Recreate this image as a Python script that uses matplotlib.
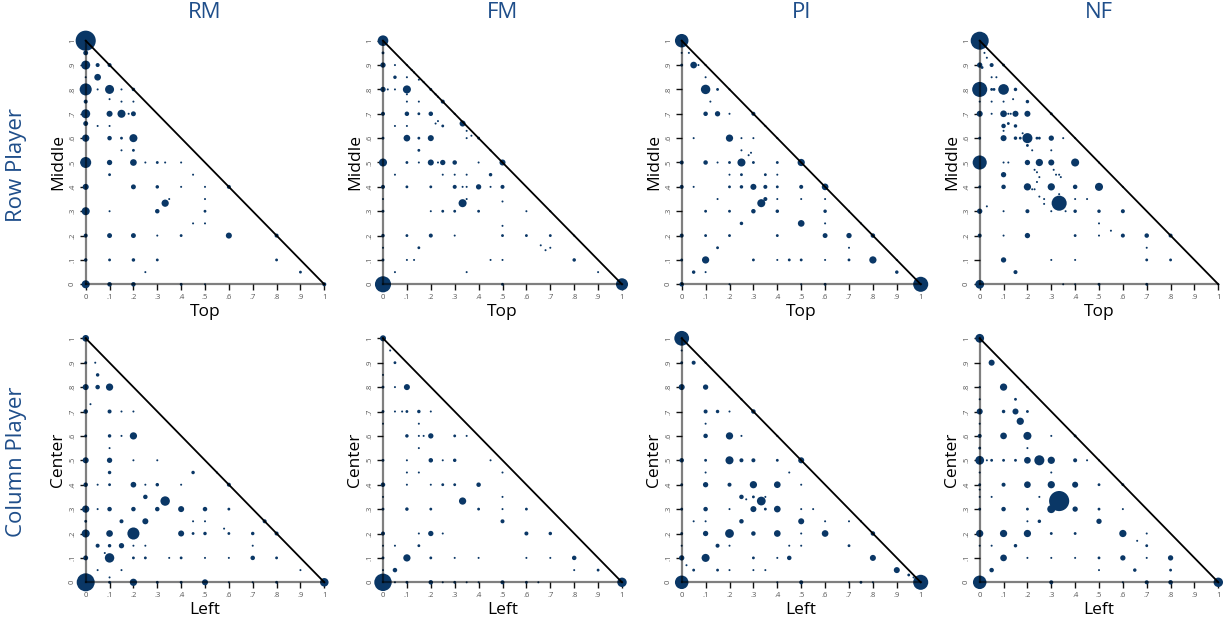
"""Triangle bubble plots of mixed strategies, row and column player, per learning model."""

import matplotlib
matplotlib.use("Agg")
import matplotlib.pyplot as plt

plt.rcParams["font.family"] = ["Open Sans", "DejaVu Sans"]

models = ["RM", "FM", "PI", "NF"]
row_labels = ["Row Player", "Column Player"]
x_names = ["Top", "Left"]
y_names = ["Middle", "Center"]
tick_vals = [0, .1, .2, .3, .4, .5, .6, .7, .8, .9, 1]
tick_text = ["0", ".1", ".2", ".3", ".4", ".5", ".6", ".7", ".8", ".9", "1"]

# (p_top/left, p_middle/center, count)
rm_row = [
    (0, 1, 100), (0, .95, 6), (0, .9, 20), (.05, .9, 4), (.1, .9, 4),
    (0, .85, 1), (.05, .85, 11),
    (0, .8, 36), (.05, .8, 1), (.1, .8, 20), (.15, .8, 1), (.2, .8, 3),
    (0, .75, 4), (.1, .76, 1), (.15, .75, 1), (.2, .75, 1),
    (0, .7, 20), (.1, .7, 9), (.15, .7, 16), (.18, .7, 1), (.2, .7, 6),
    (0, .66, 6), (.05, .65, 1), (.1, .65, 1),
    (0, .6, 13), (.1, .6, 5), (.15, .6, 2), (.2, .6, 16),
    (.15, .55, 1), (.2, .55, 2),
    (0, .5, 30), (.1, .5, 7), (.2, .5, 11), (.25, .5, 1), (.3, .5, 2), (.333, .5, 1), (.4, .5, 1),
    (.1, .45, 2), (.45, .45, 1),
    (0, .4, 9), (.2, .4, 6), (.3, .4, 3), (.4, .4, 1), (.5, .4, 1), (.6, .4, 4),
    (.35, .35, 1), (.5, .35, 1), (.333, .333, 13),
    (0, .3, 16), (.1, .3, 1), (.3, .3, 5), (.5, .3, 2),
    (.45, .25, 1), (.5, .25, 1),
    (0, .2, 4), (.1, .2, 6), (.2, .2, 6), (.3, .2, 1), (.4, .2, 2), (.6, .2, 9), (.8, .2, 4),
    (0, .1, 3), (.1, .1, 2), (.2, .1, 3), (.3, .1, 2), (.8, .1, 2),
    (.25, .05, 1), (.9, .05, 2),
    (0, 0, 16), (.1, 0, 5), (.2, 0, 5), (.4, 0, 2), (.5, 0, 1), (1, 0, 4),
]

fm_row = [
    (0, 1, 28), (0, .95, 2), (0, .9, 7), (.05, .9, 1), (.1, .9, 1), (.12, .88, 1), (.13, .87, 1),
    (.05, .85, 3), (.1, .85, 1), (.15, .84, 1), (.17, .83, 1),
    (0, .8, 7), (.02, .8, 1), (.05, .8, 1), (.1, .8, 16), (.1, .78, 1), (.2, .8, 2),
    (.22, .78, 1), (.23, .77, 1),
    (.1, .75, 1), (.15, .75, 1), (.25, .75, 4),
    (0, .7, 4), (.1, .7, 5), (.15, .7, 2), (.2, .7, 5), (.3, .7, 1),
    (.22, .66, 1), (.23, .67, 1), (.25, .65, 2), (.333, .66, 9), (.05, .65, 1), (.1, .65, 1),
    (.35, .63, 1), (.35, .6, 1), (.37, .61, 1), (.4, .6, 2),
    (0, .6, 2), (.1, .6, 11), (.15, .6, 2), (.2, .6, 9),
    (.15, .55, 2), (.45, .55, 1),
    (0, .5, 16), (.1, .5, 2), (.15, .5, 1), (.2, .5, 9), (.23, .5, 1), (.25, .5, 7), (.3, .5, 5),
    (.4, .5, 1), (.5, .5, 9),
    (.05, .45, 1), (.25, .45, 1), (.3, .45, 1), (.35, .45, 1), (.45, .45, 3),
    (0, .4, 4), (.1, .4, 2), (.2, .4, 2), (.3, .4, 4), (.333, .4, 1), (.35, .4, 1),
    (.4, .4, 7), (.45, .4, 1), (.5, .4, 4),
    (.35, .35, 1), (0, .35, 1), (.333, .333, 16), (.5, .34, 1),
    (0, .3, 2), (.2, .3, 1), (.25, .3, 2), (.3, .3, 2), (.4, .3, 2), (.6, .3, 1), (.7, .3, 1),
    (.5, .24, 1),
    (0, .2, 3), (.1, .2, 2), (.2, .2, 4), (.3, .2, 1), (.5, .2, 2), (.6, .2, 2), (.7, .2, 2), (.8, .2, 1),
    (.66, .16, 1), (.68, .14, 1), (.7, .15, 1),
    (0, .15, 1), (.15, .15, 2),
    (0, .1, 2), (.1, .1, 1), (.13, .1, 1), (.45, .1, 1), (.5, .1, 1), (.8, .1, 3),
    (.05, .05, 1), (.35, .05, 1), (.9, .05, 1),
    (0, 0, 64), (.5, 0, 2), (1, 0, 36),
]

pi_row = [
    (0, 1, 45), (0, .95, 1), (.03, .95, 1),
    (0, .9, 2), (.05, .9, 11), (.07, .9, 1), (.1, .9, 1), (.1, .85, 1),
    (.1, .8, 22), (.15, .8, 2), (.2, .8, 1), (.12, .75, 1),
    (.1, .7, 5), (.15, .7, 7), (.2, .7, 1), (.3, .7, 4), (.35, .65, 1),
    (.05, .6, 1), (.2, .6, 13), (.25, .6, 1), (.3, .6, 1), (.4, .6, 1),
    (.25, .55, 1), (.28, .53, 1), (.29, .54, 1),
    (0, .5, 4), (.1, .5, 5), (.15, .5, 1), (.2, .5, 2), (.25, .5, 16), (.3, .5, 2), (.4, .5, 2),
    (.5, .5, 13),
    (.2, .45, 1), (.25, .45, 2), (.35, .45, 2), (.4, .45, 1),
    (0, .4, 4), (.05, .4, 1), (.2, .4, 2), (.25, .4, 3), (.3, .4, 9), (.35, .4, 4), (.4, .4, 2),
    (.5, .4, 4), (.6, .4, 11),
    (.15, .35, 1), (.35, .35, 4), (.4, .35, 1), (.5, .35, 1), (.6, .35, 1), (.333, .333, 16),
    (.1, .3, 2), (.2, .3, 2), (.3, .3, 5), (.4, .3, 3), (.6, .3, 3), (.7, .3, 1),
    (.25, .25, 3), (.5, .25, 11), (.6, .25, 1), (.75, .25, 1),
    (0, .2, 4), (.1, .2, 2), (.2, .2, 2), (.4, .2, 2), (.6, .2, 6), (.7, .2, 7), (.8, .2, 5),
    (.15, .15, 2), (.7, .15, 1),
    (0, .1, 2), (.1, .1, 13), (.3, .1, 2), (.4, .1, 1), (.45, .1, 2), (.5, .1, 2), (.6, .1, 1),
    (.7, .1, 2), (.8, .1, 13), (.9, .1, 1),
    (.05, .05, 3), (.1, .05, 1), (.9, .05, 3),
    (0, 0, 5), (.2, 0, 1), (.5, 0, 1), (.6, 0, 2), (1, 0, 56),
]

nf_row = [
    (0, 1, 80), (.02, .95, 1), (.03, .93, 1),
    (0, .9, 7), (.01, .89, 2), (.05, .9, 4), (.1, .9, 2), (.05, .85, 1), (.07, .85, 1),
    (0, .8, 56), (.05, .8, 2), (.06, .8, 2), (.1, .8, 28), (.15, .8, 3), (.14, .76, 1),
    (0, .75, 1), (.05, .75, 1), (.1, .75, 1), (.2, .75, 3),
    (0, .7, 9), (.05, .7, 1), (.1, .7, 11), (.12, .7, 1), (.13, .7, 1), (.15, .7, 9), (.2, .7, 9),
    (.3, .7, 2),
    (.1, .65, 5), (.12, .66, 2), (.15, .65, 3), (.1, .63, 1), (.18, .62, 1), (.19, .61, 1),
    (0, .6, 2), (.1, .6, 9), (.15, .6, 3), (.17, .6, 2), (.2, .6, 25), (.24, .6, 2), (.25, .6, 2),
    (.3, .6, 7), (.35, .6, 1), (.4, .6, 1),
    (.2, .57, 2), (.22, .55, 1), (.3, .55, 1),
    (0, .5, 49), (.1, .5, 1), (.12, .5, 1), (.2, .5, 7), (.25, .5, 13), (.3, .5, 9), (.4, .5, 16),
    (.5, .5, 1),
    (.23, .47, 1), (.24, .46, 1), (.31, .47, 1), (.1, .45, 7), (.25, .44, 1), (.32, .45, 1),
    (.333, .45, 1), (.34, .44, 1), (.24, .42, 1),
    (0, .4, 2), (.1, .4, 5), (.2, .4, 13), (.22, .39, 1), (.23, .39, 1), (.3, .4, 13), (.4, .4, 5),
    (.5, .4, 16), (.6, .4, 1),
    (.25, .36, 1), (.27, .35, 1), (.333, .37, 1), (.4, .35, 1), (.45, .35, 1),
    (.333, .333, 56), (.27, .33, 1), (.03, .32, 1),
    (0, .3, 7), (.1, .3, 1), (.2, .3, 4), (.3, .3, 1), (.36, .3, 1), (.4, .3, 3), (.5, .3, 3),
    (.6, .3, 4),
    (.5, .25, 1), (.55, .22, 1),
    (0, .2, 4), (.1, .2, 1), (.2, .2, 7), (.4, .2, 2), (.5, .2, 1), (.6, .2, 4), (.7, .2, 5),
    (.8, .2, 4),
    (.7, .15, 1), (.1, .1, 7), (.3, .1, 1), (.4, .1, 1), (.7, .1, 2), (.8, .1, 2), (.15, .05, 4),
    (0, 0, 19), (.35, 0, 1), (.4, 0, 1), (.5, 0, 2), (.7, 0, 2), (1, 0, 1),
]

rm_col = [
    (0, 1, 11), (0, .9, 2), (.04, .9, 1), (.05, .85, 3),
    (0, .8, 9), (.05, .8, 5), (.1, .8, 13), (.02, .73, 1),
    (0, .7, 5), (.1, .7, 4), (.15, .7, 1), (.2, .7, 1),
    (0, .6, 2), (.1, .6, 3), (.15, .6, 1), (.2, .6, 13), (.1, .55, 1),
    (0, .5, 9), (.1, .5, 7), (.2, .5, 1), (.3, .5, 1),
    (.1, .45, 3), (.45, .45, 3), (.55, .45, 1),
    (0, .4, 5), (.05, .4, 1), (.1, .4, 2), (.2, .4, 8), (.25, .4, 1), (.3, .4, 3), (.4, .4, 1),
    (.6, .4, 4),
    (.25, .35, 5), (.333, .333, 22),
    (0, .3, 13), (.05, .3, 1), (.1, .3, 5), (.2, .3, 5), (.3, .3, 5), (.4, .3, 9), (.5, .3, 5),
    (.6, .3, 2),
    (0, .25, 2), (.15, .25, 4), (.25, .25, 9), (.45, .25, 1), (.5, .25, 1), (.75, .25, 4),
    (.58, .22, 1),
    (0, .2, 16), (.1, .2, 11), (.2, .2, 36), (.4, .2, 9), (.45, .2, 2), (.5, .2, 3), (.6, .2, 2),
    (.7, .2, 3), (.8, .2, 4),
    (.05, .15, 4), (.1, .15, 3), (.15, .15, 7), (.2, .15, 1), (.25, .15, 1), (.7, .15, 1),
    (.08, .12, 1),
    (0, .1, 6), (.1, .1, 22), (.2, .1, 2), (.25, .1, 2), (.35, .1, 1), (.4, .1, 2), (.5, .1, 1),
    (.6, .1, 1), (.7, .1, 5), (.8, .1, 2),
    (.05, .05, 1), (.15, .05, 1), (.9, .05, 1), (.1, .02, 1),
    (0, 0, 80), (.1, 0, 2), (.2, 0, 13), (.3, 0, 2), (.4, 0, 2), (.5, 0, 9), (.6, 0, 1),
    (.7, 0, 1), (.8, 0, 2), (1, 0, 18),
]

fm_col = [
    (0, 1, 9), (.03, .95, 1), (.05, .9, 2), (0, .85, 1),
    (0, .8, 2), (.05, .8, 1), (.1, .8, 9),
    (0, .7, 2), (.05, .7, 1), (.08, .7, 1), (.1, .7, 2), (.15, .7, 3), (.2, .7, 1),
    (0, .65, 1), (.15, .65, 1),
    (.1, .6, 3), (.15, .6, 1), (.17, .6, 1), (.2, .6, 7), (.3, .6, 2), (.35, .6, 1),
    (.15, .55, 1),
    (0, .5, 2), (.1, .5, 1), (.2, .5, 5), (.25, .5, 1), (.3, .5, 3), (.45, .5, 1),
    (.1, .45, 1), (.15, .45, 1), (.5, .45, 1),
    (0, .4, 5), (.1, .4, 1), (.2, .4, 1), (.25, .4, 2), (.3, .4, 2), (.4, .4, 5),
    (0, .35, 1), (.5, .35, 1), (.333, .333, 13),
    (0, .3, 2), (.1, .3, 3), (.2, .3, 2), (.4, .3, 2), (.5, .3, 1), (.6, .3, 2),
    (.5, .25, 4),
    (0, .2, 4), (.15, .2, 1), (.2, .2, 7), (.25, .2, 1), (.6, .2, 4), (.7, .2, 3),
    (0, .15, 1), (.05, .15, 1), (.15, .15, 2),
    (0, .1, 2), (.1, .1, 13), (.2, .1, 2), (.3, .1, 1), (.4, .1, 1), (.6, .1, 1), (.7, .1, 1),
    (.8, .1, 5),
    (0, .05, 1), (.05, .05, 5), (.8, .05, 1), (.9, .05, 2),
    (0, 0, 75), (.05, 0, 1), (.1, 0, 2), (.2, 0, 5), (.25, 0, 1), (.3, 0, 2), (.35, 0, 1),
    (.4, 0, 1), (.5, 0, 4), (.6, 0, 2), (.65, 0, 1), (1, 0, 22),
]

pi_col = [
    (0, 1, 54), (0, .95, 1), (0, .9, 2), (.05, .9, 4), (.1, .9, 1),
    (0, .8, 9), (.1, .8, 7), (.2, .8, 1), (.25, .75, 1),
    (.1, .7, 4), (.15, .7, 3), (.2, .7, 1), (.3, .7, 5), (.1, .65, 1),
    (.1, .6, 5), (.2, .6, 13), (.25, .6, 1), (.4, .6, 1),
    (0, .5, 5), (.1, .5, 2), (.2, .5, 16), (.25, .5, 4), (.3, .5, 4), (.4, .5, 2), (.5, .5, 9),
    (.1, .45, 1), (.45, .45, 1),
    (0, .4, 2), (.1, .4, 7), (.2, .4, 4), (.3, .4, 13), (.4, .4, 11), (.5, .4, 1),
    (.25, .35, 5), (.27, .34, 1), (.3, .35, 2), (.35, .35, 1), (.333, .333, 19),
    (0, .3, 2), (.1, .3, 5), (.2, .3, 1), (.3, .3, 9), (.35, .3, 2), (.4, .3, 11), (.5, .3, 1),
    (.55, .3, 1),
    (.05, .25, 1), (.1, .25, 1), (.25, .25, 5), (.5, .25, 9), (.6, .25, 1), (.7, .25, 1),
    (.75, .25, 1),
    (0, .2, 2), (.1, .2, 7), (.2, .2, 19), (.3, .2, 5), (.4, .2, 11), (.5, .2, 1), (.6, .2, 11),
    (.8, .2, 5),
    (0, .15, 1), (.15, .15, 4), (.2, .15, 1), (.45, .15, 1), (.5, .15, 1), (.7, .15, 2),
    (0, .1, 7), (.1, .1, 16), (.3, .1, 2), (.4, .1, 1), (.45, .1, 5), (.8, .1, 9),
    (.02, .07, 1),
    (.05, .05, 2), (.15, .05, 2), (.2, .05, 1), (.3, .05, 1), (.35, .05, 1), (.9, .05, 9),
    (.95, .03, 2), (.97, .02, 1),
    (0, 0, 45), (.4, 0, 1), (.5, 0, 4), (.7, 0, 1), (.75, 0, 2), (.8, 0, 1), (1, 0, 56),
]

nf_col = [
    (0, 1, 19), (.05, .9, 9),
    (0, .8, 1), (.1, .8, 13), (.2, .8, 1), (0, .75, 1), (.15, .75, 2),
    (0, .7, 9), (.1, .7, 3), (.15, .7, 9), (.2, .7, 2), (.17, .66, 13), (0, .65, 1),
    (0, .6, 4), (.1, .6, 11), (.2, .6, 16), (.3, .6, 1), (.4, .6, 2),
    (0, .55, 2), (.2, .55, 1),
    (0, .5, 19), (.03, .5, 1), (.05, .5, 2), (.1, .5, 2), (.15, .5, 2), (.2, .5, 11), (.25, .5, 25),
    (.3, .5, 13), (.4, .5, 4), (.45, .5, 1), (.5, .5, 1),
    (0, .45, 1), (.3, .45, 1),
    (0, .4, 2), (.1, .4, 4), (.2, .4, 11), (.3, .4, 13), (.4, .4, 9), (.5, .4, 2), (.6, .4, 2),
    (0, .38, 1), (0, .35, 1), (.05, .35, 1), (.25, .35, 1),
    (.333, .333, 100),
    (0, .3, 2), (.1, .3, 5), (.2, .3, 2), (.3, .3, 16), (.4, .3, 7), (.5, .3, 2), (.6, .3, 1),
    (.2, .25, 1), (.25, .25, 3), (.5, .25, 7),
    (0, .2, 13), (.1, .2, 13), (.2, .2, 13), (.3, .2, 2), (.4, .2, 2), (.6, .2, 13), (.7, .2, 1),
    (.66, .17, 1),
    (0, .15, 1), (.05, .15, 1), (.15, .15, 3), (.7, .15, 2),
    (.1, .1, 11), (.2, .1, 1), (.3, .1, 1), (.4, .1, 1), (.5, .1, 2), (.6, .1, 7), (.7, .1, 1),
    (.8, .1, 7),
    (.05, .05, 5), (.5, .05, 1), (.65, .05, 3), (.8, .05, 2),
    (0, 0, 45), (.3, 0, 4), (.6, 0, 1), (.7, 0, 4), (.8, 0, 5), (1, 0, 22),
]

grid = [[rm_row, fm_row, pi_row, nf_row],
        [rm_col, fm_col, pi_col, nf_col]]

# pixel placement of the unit square of each panel
W, H = 1225, 621
col_px = [(85.7, 324.3), (383, 622), (681.7, 920.7), (979.7, 1218.3)]
row_px = [(40.7, 284.3), (338.3, 582.3)]
pad = 0.06
dot_color = "#0a3766"
head_color = "#1f4e8a"

fig = plt.figure(figsize=(W / 100, H / 100), dpi=100)

for r, (ytop, ybot) in enumerate(row_px):
    for c, (xl, xr) in enumerate(col_px):
        uw, uh = xr - xl, ybot - ytop
        ax = fig.add_axes([(xl - pad * uw) / W, (H - ybot - pad * uh) / H,
                           uw * (1 + 2 * pad) / W, uh * (1 + 2 * pad) / H])
        pts = grid[r][c]
        xs = [p[0] for p in pts]
        ys = [p[1] for p in pts]
        ns = [p[2] for p in pts]
        ax.scatter(xs, ys, s=[2.1 * n for n in ns], color=dot_color,
                   linewidths=0, zorder=2, clip_on=False)
        ax.plot([0, 1], [1, 0], color="black", lw=1.3, zorder=3, clip_on=False)

        ax.set_xlim(-pad, 1 + pad)
        ax.set_ylim(-pad, 1 + pad)
        ax.patch.set_visible(False)
        for side in ["top", "right"]:
            ax.spines[side].set_visible(False)
        for side in ["left", "bottom"]:
            sp = ax.spines[side]
            sp.set_position(("data", 0))
            sp.set_bounds(0, 1)
            sp.set_color("black")
            sp.set_alpha(0.5)
            sp.set_linewidth(1.6)
            sp.set_zorder(4)
        ax.set_xticks(tick_vals)
        ax.set_xticklabels(tick_text)
        ax.set_yticks(tick_vals)
        ax.set_yticklabels(tick_text, rotation=90, va="center")
        ax.tick_params(direction="out", length=4, width=1.0, color="#111111",
                       labelsize=5.5, pad=3, labelcolor="#555555")
        ax.set_xlabel(x_names[r], fontsize=12.5, labelpad=2)
        ax.set_ylabel(y_names[r], fontsize=12.5, labelpad=2)

        if r == 0:
            fig.text((xl + xr) / 2 / W, 1 - 12 / H, models[c], fontsize=16,
                     color=head_color, ha="center", va="center")

fig.text(17 / W, 1 - 165 / H, row_labels[0], fontsize=16, color=head_color,
         rotation=90, ha="center", va="center")
fig.text(17 / W, 1 - 462 / H, row_labels[1], fontsize=16, color=head_color,
         rotation=90, ha="center", va="center")

fig.savefig("out.png", dpi=100)
